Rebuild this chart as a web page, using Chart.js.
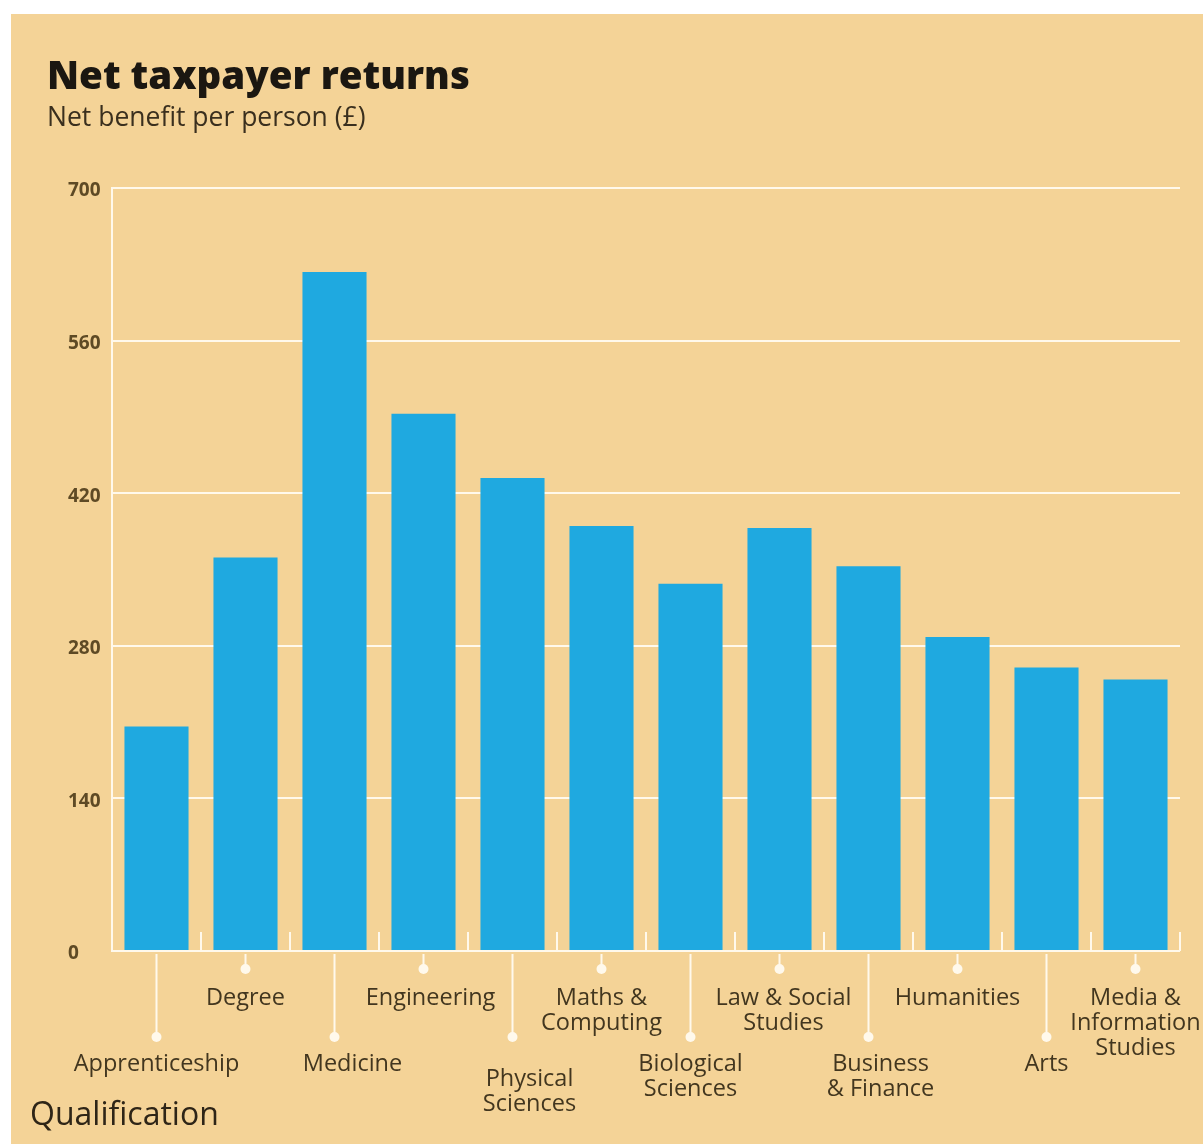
<!DOCTYPE html>
<html>
<head>
<meta charset="utf-8">
<script src="https://cdn.jsdelivr.net/npm/chart.js@4.4.1/dist/chart.umd.min.js"></script>
<style>
  html, body { margin: 0; padding: 0; background: #ffffff; }
  #wrap { width: 1203px; height: 1144px; }
</style>
</head>
<body>
<div id="wrap"><canvas id="chart" width="1203" height="1144"></canvas></div>
<script>
// Qualifications (multi-line labels) and net benefit per person in pounds
const categories = [
  ['Apprenticeship'],
  ['Degree'],
  ['Medicine'],
  ['Engineering'],
  ['Physical', 'Sciences'],
  ['Maths &', 'Computing'],
  ['Biological', 'Sciences'],
  ['Law & Social', 'Studies'],
  ['Business', '& Finance'],
  ['Humanities'],
  ['Arts'],
  ['Media &', 'Information', 'Studies']
];
const netBenefit = [206, 361, 623, 493, 434, 390, 337, 388, 353, 288, 260, 249];
const yTickValues = [0, 140, 280, 420, 560, 700];

const titleText = 'Net taxpayer returns';
const subtitleText = 'Net benefit per person (£)';
const xAxisTitle = 'Qualification';

const FONT = '"Open Sans", "DejaVu Sans", sans-serif';
const BEIGE = '#f4d397';
const BLUE = '#1fa9e0';
const LINE = '#fff9ec';
const LABEL_COLOR = '#42361f';

// Small horizontal/vertical nudges for a few category labels
const labelNudge = { 2: [18, 0], 3: [7, 0], 4: [17, 15], 7: [4, 0], 8: [12, 0] };

const decorations = {
  id: 'decorations',
  beforeDraw(chart) {
    const ctx = chart.ctx;
    ctx.save();
    ctx.fillStyle = '#ffffff';
    ctx.fillRect(0, 0, chart.width, chart.height);
    ctx.fillStyle = BEIGE;
    ctx.fillRect(11, 14, chart.width - 11, chart.height - 14);

    ctx.textAlign = 'left';
    ctx.textBaseline = 'alphabetic';
    ctx.fillStyle = '#1b1711';
    ctx.font = `800 38.5px ${FONT}`;
    ctx.fillText(titleText, 47, 89);
    ctx.fillStyle = '#3a2f1e';
    ctx.font = `400 26.5px ${FONT}`;
    ctx.fillText(subtitleText, 47, 126);
    ctx.restore();
  },
  afterDatasetsDraw(chart) {
    const ctx = chart.ctx;
    const x = chart.scales.x;
    const area = chart.chartArea;
    const base = area.bottom;
    ctx.save();

    // boundary ticks rising from the baseline
    ctx.strokeStyle = LINE;
    ctx.lineWidth = 2;
    for (let i = 1; i <= categories.length; i++) {
      const bx = Math.round(x.getPixelForValue(i - 0.5));
      ctx.beginPath();
      ctx.moveTo(bx, base);
      ctx.lineTo(bx, base - 19);
      ctx.stroke();
    }

    // leader stems, dots and staggered labels
    ctx.font = `400 23.5px ${FONT}`;
    ctx.textAlign = 'center';
    ctx.textBaseline = 'alphabetic';
    categories.forEach((lines, i) => {
      const cx = x.getPixelForValue(i);
      const low = i % 2 === 0;
      const dotY = low ? base + 86 : base + 18;
      ctx.strokeStyle = LINE;
      ctx.lineWidth = 2;
      ctx.beginPath();
      ctx.moveTo(cx, base + 3);
      ctx.lineTo(cx, dotY);
      ctx.stroke();
      ctx.fillStyle = LINE;
      ctx.beginPath();
      ctx.arc(cx, dotY, 5, 0, Math.PI * 2);
      ctx.fill();

      const [dx, dy] = labelNudge[i] || [0, 0];
      const firstBaseline = (low ? base + 120 : base + 54) + dy;
      ctx.fillStyle = LABEL_COLOR;
      lines.forEach((t, k) => ctx.fillText(t, cx + dx, firstBaseline + k * 25));
    });

    // axis title
    ctx.textAlign = 'left';
    ctx.font = `400 32px ${FONT}`;
    ctx.fillStyle = '#2e2517';
    ctx.fillText(xAxisTitle, 30, 1125);
    ctx.restore();
  }
};

new Chart(document.getElementById('chart'), {
  type: 'bar',
  data: {
    labels: categories,
    datasets: [{
      data: netBenefit,
      backgroundColor: BLUE,
      borderWidth: 0,
      categoryPercentage: 1,
      barPercentage: 0.72
    }]
  },
  options: {
    responsive: false,
    animation: false,
    layout: { padding: { left: 68, top: 188, right: 23, bottom: 193 } },
    plugins: {
      legend: { display: false },
      tooltip: { enabled: false },
      title: { display: false }
    },
    scales: {
      x: { display: false },
      y: {
        min: 0,
        max: 700,
        afterBuildTicks(scale) {
          scale.ticks = yTickValues.map(v => ({ value: v }));
        },
        afterFit(scale) { scale.width = 44; },
        ticks: {
          crossAlign: 'far',
          padding: 0,
          labelOffset: 3,
          color: '#5e4a25',
          font: { family: FONT, size: 19, weight: 'bold' }
        },
        grid: { color: LINE, lineWidth: 2, drawTicks: false },
        border: { display: true, color: LINE, width: 2 }
      }
    }
  },
  plugins: [decorations]
});
</script>
</body>
</html>
